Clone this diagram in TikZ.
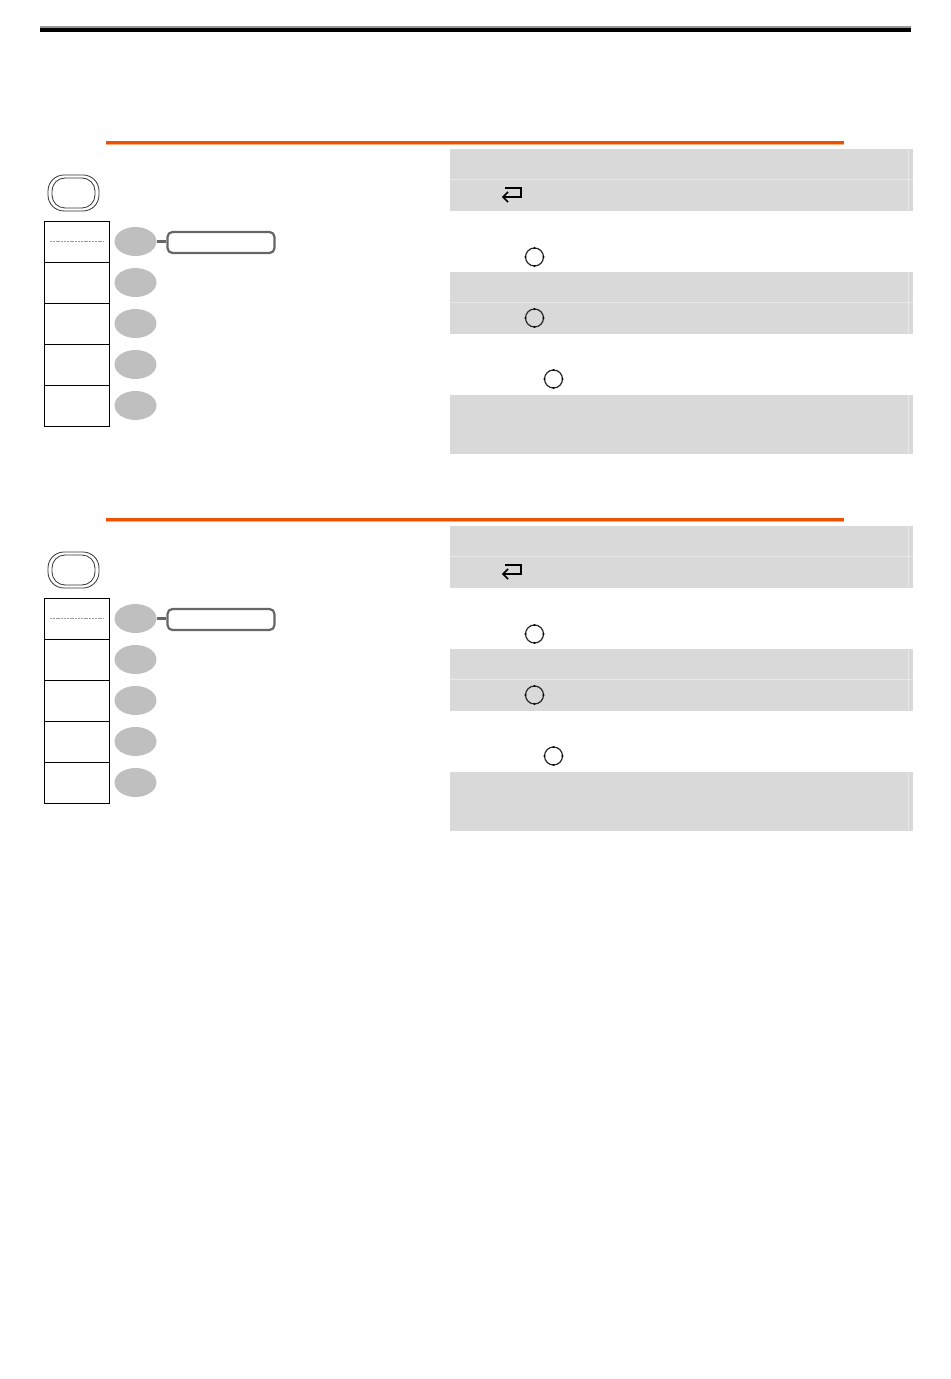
\documentclass[tikz,border=0pt]{standalone}
\usepackage{xcolor}
\usepackage{tikz}
\usetikzlibrary{calc,arrows.meta,shapes.geometric}
\definecolor{orangebar}{HTML}{EE5000}
\definecolor{orangeedge}{HTML}{F8B080}
\definecolor{panel}{HTML}{D9D9D9}
\definecolor{panelline}{HTML}{E8E8E8}
\definecolor{softkey}{HTML}{BFBFBF}
\definecolor{pillline}{HTML}{666666}
\definecolor{rulegray}{HTML}{999999}
\tikzset{
  menuframe/.style={draw=black!80, line width=0.4pt, rounded corners=8pt, inner sep=0pt},
  menubox/.style={draw=black, line width=0.55pt, inner sep=0pt, minimum width=32.5pt, minimum height=20.5pt},
  oval/.style={ellipse, fill=softkey, inner sep=0pt, minimum width=21pt, minimum height=14.5pt},
  pill/.style={draw=pillline, line width=1.1pt, rounded corners=2.5pt, inner sep=0pt, minimum width=53.5pt, minimum height=10.5pt},
  link/.style={draw=pillline, line width=1.1pt},
  knob/.style={draw=black!85, line width=0.6pt},
  knobdot/.style={circle, fill=black, inner sep=0pt, minimum size=1.2pt},
  enter/.style={draw=black, line width=0.85pt},
}
% one dial symbol, #1 is the centre
\newcommand{\dial}[1]{
  \draw[knob] (#1) circle (4.5pt);
  \foreach \a in {0,90,180,270}
    \node[knobdot] at ($(#1)+(\a:4.5pt)$) {};
}
\begin{document}
\begin{tikzpicture}[x=0.5pt,y=-0.5pt]
  \useasboundingbox (0,0) rectangle (950,1379);
  % header rule
  \fill[rulegray] (40,26) rectangle (911,28);
  \fill[black] (40,28.5) rectangle (911,32.5);
  \foreach \dy in {0,377} {
    \begin{scope}[yshift=-\dy*0.5pt]
      \fill[orangebar] (106,141) rectangle (844,144);
      \fill[orangeedge] (106,144) rectangle (844,145);
      % panels on the right
      \foreach \ya/\yb in {149/211,272/334,395/454}
        \fill[panel] (450,\ya) rectangle (913,\yb);
      \foreach \ya in {179.5,302.5}
        \draw[panelline, line width=0.5pt] (450,\ya) -- (913,\ya);
      \foreach \ya/\yb in {149/211,272/334,395/454}
        \draw[panelline, line width=0.5pt] (908.5,\ya) -- (908.5,\yb);
      % menu button and side keys
      \node[menuframe, minimum width=25.5pt, minimum height=18pt] (menu\dy) at (73.5,193) {};
      \node[menuframe, rounded corners=6.5pt, minimum width=21.5pt, minimum height=15pt] (inner\dy) at (73.5,193) {};
      \foreach \i in {0,...,4} {
        \node[menubox] (box\i\dy) at (76.75,{241.75+41*\i}) {};
        \node[oval] (oval\i\dy) at (135.5,{241.5+41*\i}) {};
      }
      \draw[rulegray, line width=0.3pt, dash pattern=on 1pt off 0.4pt] (50,241.5) -- (104,241.5);
      \node[pill] (pill\dy) at (221,242.5) {};
      \draw[link] (oval0\dy) -- (pill\dy.west |- oval0\dy);
      % enter arrow
      \draw[enter] (505,188) -- (521,188) -- (521,197) -- (503,197);
      \draw[enter] (508,192) -- (503,197) -- (508,202);
      \dial{534.5,257}
      \dial{534.5,318}
      \dial{553.5,379}
    \end{scope}
  }
\end{tikzpicture}
\end{document}
